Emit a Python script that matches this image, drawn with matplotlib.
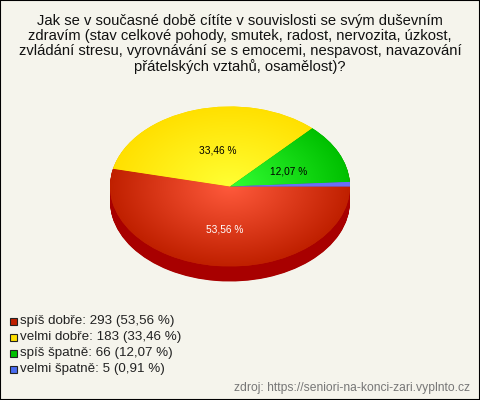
import numpy as np
import matplotlib
matplotlib.use("Agg")
import matplotlib.pyplot as plt
from matplotlib.colors import LinearSegmentedColormap
from matplotlib.patches import Rectangle

TITLE = ("Jak se v současné době cítíte v souvislosti se svým duševním\n"
         "zdravím (stav celkové pohody, smutek, radost, nervozita, úzkost,\n"
         "zvládání stresu, vyrovnávání se s emocemi, nespavost, navazování\n"
         "přátelských vztahů, osamělost)?")
SOURCE = "zdroj: https://seniori-na-konci-zari.vyplnto.cz"
categories = ["spíš dobře", "velmi dobře", "spíš špatně", "velmi špatně"]
counts = [293, 183, 66, 5]
percents = ["53,56", "33,46", "12,07", "0,91"]

edge_colors = ["#c02000", "#ffe000", "#00c000", "#4a6cf0"]
center_colors = ["#ff5a3c", "#ffff33", "#33ff33", "#6a70ff"]
label_colors = ["white", "black", "black", None]
label_pos = [(225, 230), (218, 151), (289, 172), None]

BG = "#f5f4ec"
W, H = 480, 400
CX, CY, RX, RY, DEPTH = 230, 186.5, 120, 80, 15

plt.rcParams["font.family"] = ["Liberation Sans", "DejaVu Sans"]


def px(x, y):
    return x / W, 1 - y / H


fig = plt.figure(figsize=(W / 100, H / 100), dpi=100, facecolor=BG)

# axes reach past the ellipse so the wedge edges do not get clipped
ax = fig.add_axes([(CX - 1.25 * RX) / W, 1 - (CY + 1.25 * RY) / H, 2.5 * RX / W, 2.5 * RY / H])

for off in np.arange(DEPTH, 0, -0.5):
    ax.pie(counts, startangle=0, counterclock=False, center=(0, -off / RY),
           colors=["#a80000"] * len(counts), radius=1)

wedges, _ = ax.pie(counts, startangle=0, counterclock=False, colors=edge_colors, radius=1)

gx, gy = np.meshgrid(np.linspace(-1, 1, 500), np.linspace(-1, 1, 500))
dist = np.clip(np.hypot(gx, gy), 0, 1)
for wedge, c0, c1 in zip(wedges, center_colors, edge_colors):
    # the thin blue slice stays light all the way out
    c_out = "#6a70f8" if c1 == "#4a6cf0" else c1
    cmap = LinearSegmentedColormap.from_list("g", [c0, c_out])
    im = ax.imshow(dist, extent=(-1, 1, -1, 1), origin="lower", cmap=cmap, vmin=0, vmax=1,
                   aspect="auto", zorder=wedge.get_zorder() + 0.1)
    im.set_clip_path(wedge)

ax.set_aspect("auto")
ax.set_xlim(-1.25, 1.25)
ax.set_ylim(-1.25, 1.25)
ax.axis("off")

for pct, pos, col in zip(percents, label_pos, label_colors):
    if pos is None:
        continue
    fig.text(*px(*pos), f"{pct} %", color=col, fontsize=7.3, ha="center", va="center", zorder=5)

fig.text(*px(240, 44), TITLE, ha="center", va="center", fontsize=10.65, color="#111111",
         linespacing=1.09)

for i, (name, n, pct, col) in enumerate(zip(categories, counts, percents, edge_colors)):
    y = 321 + 16 * i
    fig.add_artist(Rectangle(px(9.5, y + 3.5), 7 / W, 7 / H, transform=fig.transFigure,
                             facecolor=col, edgecolor="#222222", linewidth=0.8))
    fig.text(*px(20, y), f"{name}: {n} ({pct} %)", fontsize=9.6, color="#222222",
             ha="left", va="center")

fig.text(*px(470, 388), SOURCE, fontsize=8.75, color="#777777", ha="right", va="center")

# black frame round the picture
fig.add_artist(Rectangle((0, 0), 1, 1, transform=fig.transFigure, facecolor="none",
                         edgecolor="black", linewidth=1.5))

fig.savefig("out.png", dpi=100, facecolor=BG)
